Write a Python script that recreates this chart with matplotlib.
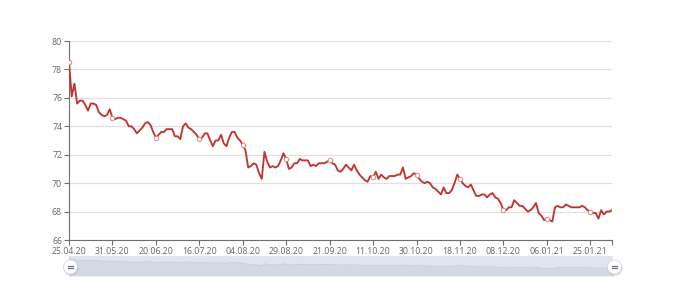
import matplotlib
matplotlib.use("Agg")
import matplotlib.pyplot as plt
import numpy as np
from matplotlib.patches import Circle
from matplotlib.transforms import IdentityTransform

# ---- data ----
values = [
    78.5, 76.1, 77.0, 75.6, 75.8, 75.8, 75.5, 75.1, 75.6, 75.6,
    75.5, 75.0, 74.8, 74.7, 74.8, 75.2, 74.6, 74.5, 74.6, 74.6,
    74.5, 74.4, 74.0, 74.0, 73.8, 73.5, 73.7, 73.9, 74.2, 74.3,
    74.1, 73.6, 73.2, 73.4, 73.6, 73.6, 73.8, 73.8, 73.8, 73.3,
    73.3, 73.1, 74.0, 74.2, 73.9, 73.8, 73.6, 73.4, 73.1, 73.2,
    73.5, 73.5, 73.0, 72.6, 73.0, 73.0, 73.4, 72.8, 72.6, 73.2,
    73.6, 73.6, 73.2, 73.0, 72.7, 72.3, 71.1, 71.2, 71.4, 71.3,
    70.7, 70.3, 72.2, 71.5, 71.1, 71.2, 71.1, 71.2, 71.6, 72.1,
    71.7, 71.0, 71.1, 71.4, 71.4, 71.7, 71.6, 71.6, 71.6, 71.2,
    71.3, 71.2, 71.4, 71.4, 71.4, 71.5, 71.6, 71.4, 71.3, 70.9,
    70.8, 71.0, 71.3, 71.1, 70.9, 71.3, 70.9, 70.6, 70.4, 70.2,
    70.1, 70.5, 70.4, 70.8, 70.3, 70.6, 70.4, 70.3, 70.5, 70.5,
    70.5, 70.6, 70.6, 71.1, 70.3, 70.4, 70.5, 70.7, 70.6, 70.3,
    70.1, 70.0, 70.1, 70.0, 69.7, 69.6, 69.4, 69.2, 69.7, 69.3,
    69.3, 69.5, 70.0, 70.6, 70.3, 70.0, 69.8, 69.7, 69.9, 69.5,
    69.1, 69.1, 69.2, 69.2, 69.0, 69.2, 69.3, 69.0, 68.9, 68.6,
    68.1, 68.1, 68.3, 68.3, 68.8, 68.6, 68.4, 68.4, 68.2, 68.0,
    68.1, 68.3, 68.6, 67.9, 67.7, 67.4, 67.5, 67.4, 67.3, 68.3,
    68.4, 68.3, 68.3, 68.5, 68.4, 68.3, 68.3, 68.3, 68.3, 68.4,
    68.3, 68.1, 68.0, 67.9, 67.9, 67.5, 68.1, 67.8, 68.0, 68.0,
    68.1,
]
tick_labels = ["25.04.20", "31.05.20", "20.06.20", "16.07.20", "04.08.20",
               "29.08.20", "21.09.20", "11.10.20", "30.10.20", "18.11.20",
               "08.12.20", "06.01.21", "25.01.21"]
y_ticks = [66, 68, 70, 72, 74, 76, 78, 80]
label_interval = 16

plt.rcParams['font.family'] = ['Open Sans', 'DejaVu Sans']

W, H = 680, 281
fig = plt.figure(figsize=(W / 100, H / 100), dpi=100)

def fx(px):
    return px / W

def fy(py):
    return 1 - py / H

x = np.arange(len(values))
n = len(values)

# main axes
ax = fig.add_axes([fx(69), fy(240), fx(612) - fx(69), fy(41) - fy(240)])
ax.plot(x, values, color="#c23531", lw=1.35, solid_joinstyle="round",
        solid_capstyle="round", zorder=3)
mk = x[::label_interval]
ax.plot(mk, [values[i] for i in mk], ls="none", marker="o", ms=3.2,
        mfc="white", mec="#d68a88", mew=0.7, zorder=4)
ax.set_xlim(0, n - 1)
ax.set_ylim(66, 80)
ax.set_yticks(y_ticks)
ax.set_yticklabels([str(v) for v in y_ticks])
ax.grid(axis="y", color="#e0e0e0", lw=0.9)
ax.set_axisbelow(True)
for s in ["top", "right"]:
    ax.spines[s].set_visible(False)
ax.spines["left"].set_color("#6e6e6e")
ax.spines["bottom"].set_color("#6e6e6e")
ax.spines["left"].set_linewidth(0.8)
ax.spines["bottom"].set_linewidth(0.8)
xt = list(range(0, n, label_interval)) + [n - 1]
ax.set_xticks(xt)
ax.set_xticklabels(tick_labels + [""])
ax.tick_params(axis="both", colors="#6e6e6e", labelcolor="#666666",
               labelsize=6.3, length=3.5, width=0.8, pad=1.5)

# data zoom slider
sx = fig.add_axes([fx(69), fy(276), fx(613) - fx(69), fy(256) - fy(276)])
sx.set_facecolor("#dfe4ee")
sx.fill_between(x, values, 60, color="#d2d9e5", lw=0)
sx.plot(x, values, color="#c5cddb", lw=0.6)
sx.set_xlim(0, n - 1)
sx.set_ylim(60, 80)
sx.set_xticks([])
sx.set_yticks([])
for s in sx.spines.values():
    s.set_visible(False)

# handles (pixel coordinates)
ident = IdentityTransform()
for hx in (70.5, 614.5):
    cy = H - 267
    sh = Circle((hx + 0.5, cy - 1.2), 7.6, transform=ident,
                facecolor="#9aa0aa", alpha=0.35, lw=0, zorder=9)
    fig.add_artist(sh)
    c = Circle((hx, cy), 7.0, transform=ident,
               facecolor="white", edgecolor="#cfd3da", lw=0.5, zorder=10)
    fig.add_artist(c)
    for dy in (-1.4, 1.4):
        fig.add_artist(plt.Line2D([hx - 2.5, hx + 2.5], [cy + dy, cy + dy],
                                  transform=ident, color="#6f747d",
                                  lw=0.9, zorder=11))

fig.savefig("out.png", dpi=100)
